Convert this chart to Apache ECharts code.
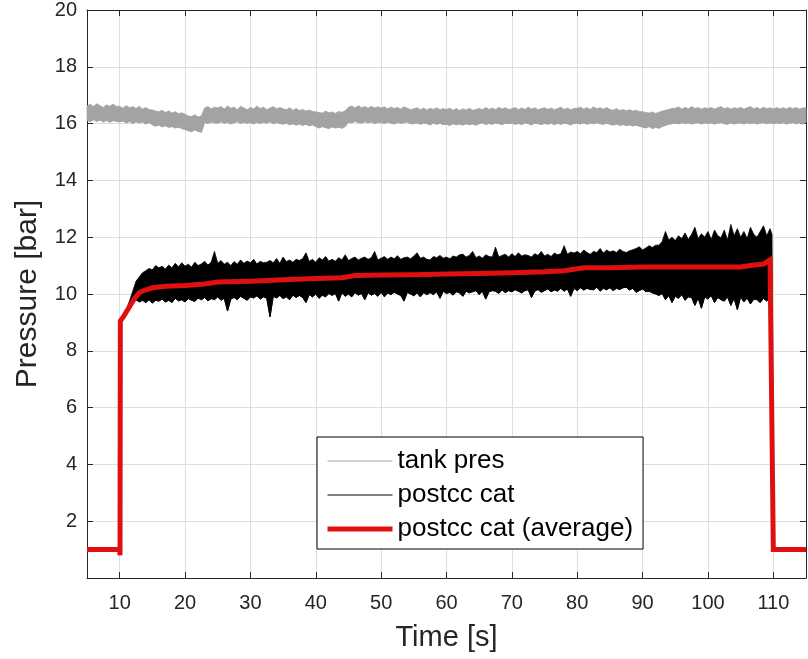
<!DOCTYPE html>
<html>
<head>
<meta charset="utf-8">
<script src="https://cdn.jsdelivr.net/npm/echarts@6/dist/echarts.min.js"></script>
<style>
  html, body { margin: 0; padding: 0; background: #fff; }
  #chart { width: 808px; height: 659px; }
</style>
</head>
<body>
<div id="chart"></div>
<script>
// noisy traces: upper / lower edge of the noise band, every 0.5 s
const sampleStep = 0.5

const tankStart = 5
const tankHigh = [
  16.62, 16.68, 16.6, 16.7, 16.63, 16.57, 16.66, 16.61, 16.69, 16.6,
  16.61, 16.54, 16.64, 16.56, 16.6, 16.53, 16.61, 16.51, 16.57, 16.5,
  16.48, 16.44, 16.42, 16.47, 16.39, 16.45, 16.37, 16.42, 16.35, 16.38,
  16.33, 16.27, 16.25, 16.31, 16.23, 16.28, 16.55, 16.6, 16.52, 16.58,
  16.55, 16.6, 16.51, 16.62, 16.54, 16.58, 16.5, 16.61, 16.55, 16.49,
  16.57, 16.52, 16.62, 16.53, 16.58, 16.49, 16.55, 16.6, 16.52, 16.57,
  16.52, 16.49, 16.56, 16.47, 16.53, 16.46, 16.5, 16.44, 16.48, 16.43,
  16.42, 16.39, 16.37, 16.44, 16.38, 16.41, 16.36, 16.43, 16.4, 16.45,
  16.58, 16.62, 16.55, 16.63, 16.56, 16.6, 16.54, 16.61, 16.55, 16.59,
  16.55, 16.59, 16.52, 16.58, 16.53, 16.57, 16.51, 16.59, 16.54, 16.49,
  16.52, 16.56, 16.49, 16.55, 16.48, 16.54, 16.5, 16.56, 16.49, 16.53,
  16.5, 16.54, 16.47, 16.53, 16.46, 16.52, 16.48, 16.54, 16.47, 16.5,
  16.53, 16.49, 16.57, 16.5, 16.55, 16.49, 16.58, 16.51, 16.56, 16.5,
  16.52, 16.57, 16.49, 16.55, 16.5, 16.58, 16.51, 16.56, 16.49, 16.53,
  16.56, 16.5, 16.55, 16.49, 16.53, 16.58, 16.5, 16.55, 16.49, 16.53,
  16.54, 16.58, 16.51, 16.56, 16.5, 16.59, 16.52, 16.56, 16.51, 16.57,
  16.5, 16.47, 16.53, 16.46, 16.5, 16.45, 16.49, 16.44, 16.47, 16.43,
  16.42, 16.39, 16.37, 16.41, 16.36, 16.4, 16.44, 16.47, 16.5, 16.53,
  16.54, 16.59, 16.51, 16.57, 16.52, 16.6, 16.53, 16.57, 16.51, 16.56,
  16.53, 16.57, 16.51, 16.56, 16.6, 16.52, 16.57, 16.51, 16.56, 16.53,
  16.57, 16.51, 16.56, 16.6, 16.52, 16.57, 16.51, 16.58, 16.52, 16.56,
  16.51, 16.57, 16.52, 16.56, 16.51, 16.58, 16.52, 16.57, 16.51, 16.56,
  16.55
]
const tankLow = [
  16.12, 16.07, 16.14, 16.08, 16.13, 16.06, 16.12, 16.05, 16.11, 16.08,
  16.06, 16.1, 16.02, 16.08, 16.01, 16.07, 16.03, 16.06, 15.99, 16.04,
  15.96, 15.91, 15.95, 15.89, 15.93, 15.87, 15.9, 15.85, 15.88, 15.83,
  15.8, 15.75, 15.72, 15.78, 15.73, 15.7, 16.05, 16.01, 16.06, 16.03,
  16.02, 16.07, 16.02, 16.05, 15.99, 16.04, 16.07, 16.01, 16.05, 16.02,
  16.04, 15.99, 16.06, 16.01, 16.05, 16.02, 16.07, 16.0, 16.04, 16.01,
  15.98, 16.02, 15.96, 16.0, 15.95, 15.99, 15.94, 15.98, 15.92, 15.96,
  15.9, 15.85, 15.9, 15.86, 15.83, 15.89, 15.85, 15.88, 15.84, 15.9,
  16.06, 16.03, 16.08, 16.04, 16.02, 16.07, 16.03, 16.06, 16.01, 16.05,
  16.04, 16.01, 16.06, 16.02, 15.99, 16.05, 16.01, 16.04, 16.06, 16.0,
  16.0, 16.03, 15.98, 16.02, 16.0, 15.96, 16.02, 15.98, 16.01, 15.97,
  15.98, 15.94, 16.0, 15.96, 15.99, 15.95, 16.0, 15.96, 15.99, 15.95,
  16.0, 16.03, 15.97, 16.01, 15.98, 16.03, 16.0, 15.97, 16.02, 16.0,
  16.02, 15.98, 16.01, 15.97, 16.03, 16.0, 15.96, 16.02, 16.0, 15.97,
  16.01, 15.98, 16.02, 15.97, 16.01, 15.98, 16.02, 16.0, 15.96, 16.01,
  16.02, 15.99, 16.03, 15.98, 16.02, 16.0, 16.04, 16.0, 15.98, 16.02,
  15.98, 15.95, 15.99, 15.94, 15.97, 15.93, 15.96, 15.92, 15.95, 15.91,
  15.88, 15.85, 15.9, 15.83, 15.87, 15.84, 15.9, 15.94, 15.98, 16.0,
  16.02, 15.99, 16.04, 16.0, 16.03, 15.99, 16.02, 16.04, 15.99, 16.03,
  16.01, 16.03, 15.99, 16.02, 16.04, 16.0, 15.98, 16.03, 15.99, 16.02,
  16.03, 15.99, 16.04, 16.0, 16.03, 15.99, 16.02, 16.04, 16.0, 16.03,
  16.0, 16.03, 16.0, 16.04, 15.99, 16.02, 16.04, 16.0, 16.03, 15.99,
  16.05
]

// postcc cat: rise at 10 s, noisy part from 12.5 s, drop at 110 s
const postccHeadTime = [5, 10, 10.1, 10.5, 11, 11.5, 12]
const postccHeadLow = [1, 1, 8.95, 9.1, 9.35, 9.6, 9.8]
const postccHeadHigh = [1, 1, 9.05, 9.2, 9.45, 9.75, 10.1]
const postccStart = 12.5
const postccHigh = [
  10.45, 10.6, 10.75, 10.82, 10.9, 10.85, 11.0, 10.92, 10.98, 10.88,
  11.02, 10.92, 11.08, 10.96, 11.1, 10.98, 11.05, 10.95, 11.12, 11.0,
  11.06, 11.15, 11.02, 11.12, 11.5, 11.08, 11.18, 11.05, 11.12, 11.0,
  11.14, 11.05, 11.2, 11.08, 11.16, 11.1, 11.22, 11.06, 11.15, 11.1,
  11.12, 11.18, 11.1, 11.25, 11.08, 11.3, 11.14, 11.2, 11.12, 11.22,
  11.18, 11.25, 11.45, 11.15, 11.22, 11.12, 11.28, 11.2, 11.32, 11.16,
  11.22, 11.15, 11.28, 11.2, 11.38, 11.18, 11.25, 11.3, 11.2, 11.26,
  11.3, 11.22, 11.28, 11.5, 11.2, 11.26, 11.32, 11.22, 11.3, 11.24,
  11.35, 11.22, 11.28, 11.3, 11.24, 11.34, 11.45, 11.26, 11.3, 11.22,
  11.2, 11.32, 11.28, 11.36, 11.26, 11.3, 11.24, 11.34, 11.3, 11.38,
  11.4, 11.3, 11.36, 11.5, 11.28, 11.34, 11.26, 11.38, 11.32, 11.3,
  11.65, 11.3, 11.36, 11.4, 11.3, 11.42, 11.32, 11.45, 11.34, 11.38,
  11.36, 11.3, 11.42, 11.36, 11.5, 11.34, 11.4, 11.32, 11.44, 11.38,
  11.42, 11.7, 11.4, 11.48, 11.44, 11.5, 11.42, 11.55, 11.46, 11.4,
  11.5, 11.46, 11.6, 11.44, 11.55, 11.48, 11.52, 11.46, 11.58, 11.5,
  11.46, 11.52, 11.56, 11.6, 11.66, 11.55, 11.62, 11.7, 11.64, 11.72,
  11.72, 11.85, 12.2, 11.9, 12.0, 11.88, 12.05, 11.95, 12.15, 11.92,
  12.1, 12.35, 11.95, 12.12, 12.0, 12.2, 11.92, 12.25, 12.05, 11.98,
  12.25, 11.9, 12.45, 12.05, 12.3, 12.0, 12.2, 11.95, 12.35, 12.1,
  12.0, 12.2, 12.4, 12.05, 12.3
]
const postccLow = [
  9.8, 9.72, 9.78, 9.7, 9.8, 9.68, 9.78, 9.75, 9.82, 9.72,
  9.78, 9.7, 9.85, 9.76, 9.8, 9.72, 9.84, 9.78, 9.74, 9.86,
  9.8, 9.88, 9.76, 9.84, 9.8, 9.9, 9.78, 9.85, 9.4, 9.82,
  9.88, 9.8, 9.92, 9.85, 9.78, 9.9, 9.86, 9.94, 9.82, 9.9,
  9.85, 9.2, 9.92, 9.86, 9.95, 9.84, 9.9, 9.8, 9.96, 9.88,
  9.95, 9.88, 9.7, 9.98, 9.9, 10.0, 9.85, 9.96, 9.9, 10.02,
  9.95, 10.02, 9.75, 10.05, 9.92, 10.0, 9.9, 10.05, 9.96, 10.02,
  9.8, 10.05, 9.96, 10.02, 9.92, 10.06, 9.9, 10.04, 9.98, 10.06,
  10.0, 9.95, 9.75, 10.06, 10.0, 9.94, 10.04, 9.9, 10.05, 9.98,
  10.05, 9.98, 10.08, 9.85, 10.1, 10.02, 10.06, 9.96, 10.08, 10.04,
  9.92, 10.1, 10.04, 10.08, 10.12, 9.98, 10.1, 9.82, 10.08, 10.12,
  10.1, 10.02, 10.14, 10.05, 10.12, 10.08, 10.15, 10.1, 10.04, 10.12,
  10.15, 9.88, 10.1, 10.16, 10.06, 10.12, 10.18, 10.08, 10.14, 10.1,
  10.2, 10.1, 10.18, 9.92, 10.2, 10.12, 10.22, 10.14, 10.2, 10.16,
  10.15, 10.24, 10.1, 10.2, 10.15, 10.22, 10.12, 10.2, 10.16, 10.22,
  10.24, 10.14, 10.2, 10.06, 10.12, 10.18, 10.08, 10.1, 10.04, 10.0,
  9.95, 10.02, 9.8, 9.95, 9.7, 9.92, 9.85, 9.98, 9.78, 9.9,
  9.88, 9.6, 9.86, 9.5, 9.9, 9.82, 9.95, 9.7, 9.88, 9.8,
  9.75, 9.9, 9.6, 9.85, 9.45, 9.9, 9.72, 9.86, 9.65, 9.82,
  9.8, 9.7, 9.85, 9.75, 9.9
]
const postccTailTime = [109.8, 110, 115]
const postccTailLow = [10.0, 1, 1]
const postccTailHigh = [12.1, 1, 1]

// postcc cat (average)
const avgTime = [5, 10, 10.05, 10.1, 10.7, 11.5, 12.3, 13, 14, 15, 17, 20, 23, 25, 30, 35, 40, 44, 46, 50,
  55, 60, 65, 70, 75, 78, 81, 85, 90, 95, 100, 105, 107, 108.5, 109.5, 109.8, 110, 115]
const avgValue = [1, 1, 0.8, 9.05, 9.25, 9.55, 9.85, 10.05, 10.15, 10.22, 10.27, 10.3, 10.35, 10.42, 10.45, 10.5, 10.55, 10.57, 10.65, 10.67,
  10.68, 10.7, 10.72, 10.75, 10.78, 10.82, 10.92, 10.92, 10.95, 10.95, 10.95, 10.95, 11.02, 11.05, 11.2, 11.25, 1, 1]

const xTicks = [10, 20, 30, 40, 50, 60, 70, 80, 90, 100, 110]
const yTicks = [2, 4, 6, 8, 10, 12, 14, 16, 18, 20]

const tankTime = tankHigh.map((_, i) => tankStart + i * sampleStep)
const postccTime = postccHeadTime
  .concat(postccHigh.map((_, i) => postccStart + i * sampleStep))
  .concat(postccTailTime)
const postccLowAll = postccHeadLow.concat(postccLow, postccTailLow)
const postccHighAll = postccHeadHigh.concat(postccHigh, postccTailHigh)

const axisColor = '#262626'
const gridColor = '#dedede'
const grayColor = '#a3a3a3'
const redColor = '#e01010'
const font = 'Liberation Sans, Arial, sans-serif'

const chart = echarts.init(document.getElementById('chart'), null, { renderer: 'canvas' })

const tickStyle = { show: true, inside: true, length: 6, lineStyle: { color: axisColor } }
const lineStyle = { show: true, onZero: false, lineStyle: { color: axisColor, width: 1 } }
const noSymbol = { opacity: 0 }

// lower edge as a plain line (gives the legend its line icon)
function edgeSeries(name, times, values, color) {
  return {
    name: name,
    type: 'line',
    data: times.map((t, i) => [t, values[i]]),
    showSymbol: false,
    symbol: 'none',
    lineStyle: { color: color, width: 1 },
    itemStyle: { color: color },
  }
}

// filled band between lower and upper edge, drawn through the grid's coords
function bandSeries(name, times, low, high, color) {
  return {
    name: name,
    type: 'custom',
    data: [[times[0], low[0]]],
    encode: { x: 0, y: 1 },
    renderItem: (params, api) => {
      const upper = times.map((t, i) => api.coord([t, high[i]]))
      const lower = times.map((t, i) => api.coord([t, low[i]])).reverse()
      return {
        type: 'polygon',
        shape: { points: upper.concat(lower) },
        style: { fill: color, stroke: color, lineWidth: 0.8 },
      }
    },
  }
}

chart.setOption({
  animation: false,
  backgroundColor: '#fff',
  grid: { left: 87, right: 2, top: 10, bottom: 81, containLabel: false },
  legend: {
    left: 317,
    top: 437,
    orient: 'vertical',
    padding: [11, 10, 7, 8],
    itemGap: 8,
    itemWidth: 65,
    itemHeight: 26,
    backgroundColor: '#fff',
    borderColor: '#000',
    borderWidth: 1,
    borderRadius: 0,
    textStyle: { fontFamily: font, fontSize: 26, color: '#000' },
    data: [
      { name: 'tank pres', itemStyle: noSymbol, lineStyle: { width: 1, color: grayColor } },
      { name: 'postcc cat', itemStyle: noSymbol, lineStyle: { width: 1, color: '#000' } },
      { name: 'postcc cat (average)', itemStyle: noSymbol, lineStyle: { width: 5, color: redColor } },
    ],
  },
  xAxis: [
    {
      type: 'value',
      min: 5,
      max: 115,
      name: 'Time [s]',
      nameLocation: 'middle',
      nameGap: 45,
      nameTextStyle: { fontFamily: font, fontSize: 29, color: axisColor },
      axisLine: lineStyle,
      axisTick: Object.assign({ customValues: xTicks }, tickStyle),
      axisLabel: {
        customValues: xTicks,
        fontFamily: font,
        fontSize: 20,
        color: axisColor,
        margin: 15,
      },
      splitLine: { show: true, lineStyle: { color: gridColor, width: 1 } },
    },
    {
      type: 'value',
      min: 5,
      max: 115,
      position: 'top',
      axisLine: lineStyle,
      axisTick: Object.assign({ customValues: xTicks }, tickStyle),
      axisLabel: { show: false, customValues: xTicks },
      splitLine: { show: false },
    },
  ],
  yAxis: [
    {
      type: 'value',
      min: 0,
      max: 20,
      interval: 2,
      name: 'Pressure [bar]',
      nameLocation: 'middle',
      nameGap: 44,
      nameTextStyle: { fontFamily: font, fontSize: 30, color: axisColor },
      axisLine: lineStyle,
      axisTick: tickStyle,
      axisLabel: {
        fontFamily: font,
        fontSize: 20,
        color: axisColor,
        margin: 10,
        formatter: (v) => (yTicks.includes(v) ? String(v) : ''),
      },
      splitLine: { show: true, lineStyle: { color: gridColor, width: 1 } },
    },
    {
      type: 'value',
      min: 0,
      max: 20,
      interval: 2,
      position: 'right',
      axisLine: lineStyle,
      axisTick: tickStyle,
      axisLabel: { show: false },
      splitLine: { show: false },
    },
  ],
  series: [
    edgeSeries('tank pres', tankTime, tankLow, grayColor),
    bandSeries('tank pres', tankTime, tankLow, tankHigh, grayColor),
    edgeSeries('postcc cat', postccTime, postccLowAll, '#000'),
    bandSeries('postcc cat', postccTime, postccLowAll, postccHighAll, '#000'),
    {
      name: 'postcc cat (average)',
      type: 'line',
      data: avgTime.map((t, i) => [t, avgValue[i]]),
      showSymbol: false,
      symbol: 'none',
      lineStyle: { color: redColor, width: 5, join: 'miter' },
      itemStyle: { color: redColor },
    },
  ],
})
</script>
</body>
</html>
